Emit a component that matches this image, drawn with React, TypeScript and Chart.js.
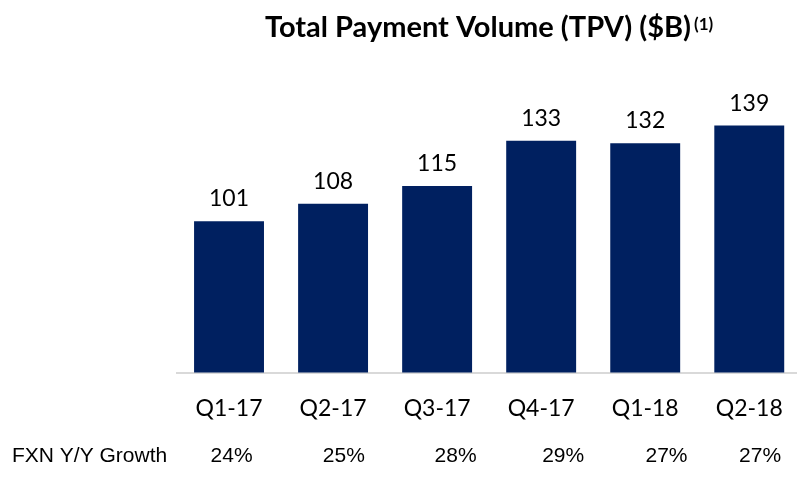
import { useEffect, useRef } from "react";
import { Chart, registerables } from "chart.js";

Chart.register(...registerables);

// ---- data ----
const categories = ["Q1-17", "Q2-17", "Q3-17", "Q4-17", "Q1-18", "Q2-18"];
const tpv = [101, 108, 115, 133, 132, 139];
const growth = ["24%", "25%", "28%", "29%", "27%", "27%"];
const titleText = "Total Payment Volume (TPV) ($B)";
const titleNote = "(1)";
const growthLabel = "FXN Y/Y Growth";

// ---- layout / style ----
const BAR_COLOR = "#002060";
const AXIS_COLOR = "#d9d9d9";
const GROWTH_DX = [2.6, 10.8, 18.5, 22, 21.3, 10.8];

const titlePlugin = {
  id: "customTitle",
  afterDraw(chart: any) {
    const { ctx, chartArea } = chart;
    const cx = (chartArea.left + chartArea.right) / 2;
    ctx.save();
    ctx.fillStyle = "#000";
    ctx.textBaseline = "alphabetic";
    ctx.textAlign = "left";
    const mainFont = "bold 29px Lato";
    const supFont = "bold 17px Lato";
    ctx.font = mainFont;
    const w1 = ctx.measureText(titleText).width;
    ctx.font = supFont;
    const w2 = ctx.measureText(titleNote).width;
    const gap = 3;
    const x0 = cx - (w1 + gap + w2) / 2;
    ctx.font = mainFont;
    ctx.fillText(titleText, x0, 37);
    ctx.font = supFont;
    ctx.fillText(titleNote, x0 + w1 + gap, 30);
    ctx.restore();
  },
};

const valueLabelPlugin = {
  id: "valueLabels",
  afterDatasetsDraw(chart: any) {
    const { ctx } = chart;
    const meta = chart.getDatasetMeta(0);
    ctx.save();
    ctx.font = "23px Lato";
    ctx.fillStyle = "#000";
    ctx.textAlign = "center";
    ctx.textBaseline = "alphabetic";
    meta.data.forEach((bar: any, i: number) => {
      ctx.fillText(String(tpv[i]), bar.x, bar.y - 15);
    });
    ctx.restore();
  },
};

const growthPlugin = {
  id: "growthRow",
  afterDraw(chart: any) {
    const { ctx } = chart;
    const xs = chart.scales.x;
    ctx.save();
    ctx.font = '21px "Liberation Sans"';
    ctx.fillStyle = "#000";
    ctx.textBaseline = "alphabetic";
    ctx.textAlign = "left";
    ctx.fillText(growthLabel, 12, 462);
    ctx.textAlign = "center";
    growth.forEach((g, i) => {
      ctx.fillText(g, xs.getPixelForValue(i) + GROWTH_DX[i], 462);
    });
    ctx.restore();
  },
};

export default function App() {
  const ref = useRef<HTMLCanvasElement | null>(null);

  useEffect(() => {
    if (!ref.current) return;
    const chart = new Chart(ref.current, {
      type: "bar",
      data: {
        labels: categories,
        datasets: [
          {
            data: tpv,
            backgroundColor: BAR_COLOR,
            borderWidth: 0,
            categoryPercentage: 1,
            barPercentage: 0.672,
          },
        ],
      },
      options: {
        animation: false,
        responsive: false,
        devicePixelRatio: 1,
        layout: { padding: { left: 177, right: 3, top: 60, bottom: 0 } },
        plugins: {
          legend: { display: false },
          title: { display: false },
          tooltip: { enabled: false },
        },
        scales: {
          x: {
            grid: { display: false, drawTicks: false },
            border: { display: true, color: AXIS_COLOR, width: 2 },
            ticks: {
              color: "#000",
              font: { family: "Lato", size: 23 },
              padding: 22,
              maxRotation: 0,
              autoSkip: false,
            },
            afterFit(scale: any) {
              scale.height = 105.5;
            },
          },
          y: {
            display: false,
            min: 41,
            max: 165,
          },
        },
      },
      plugins: [titlePlugin, valueLabelPlugin, growthPlugin],
    });
    return () => chart.destroy();
  }, []);

  return (
    <div
      style={{
        position: "fixed",
        left: 0,
        top: 0,
        width: 797,
        height: 478,
        overflow: "hidden",
        background: "#fff",
      }}
    >
      <canvas ref={ref} width={805} height={478} style={{ display: "block" }} />
    </div>
  );
}
